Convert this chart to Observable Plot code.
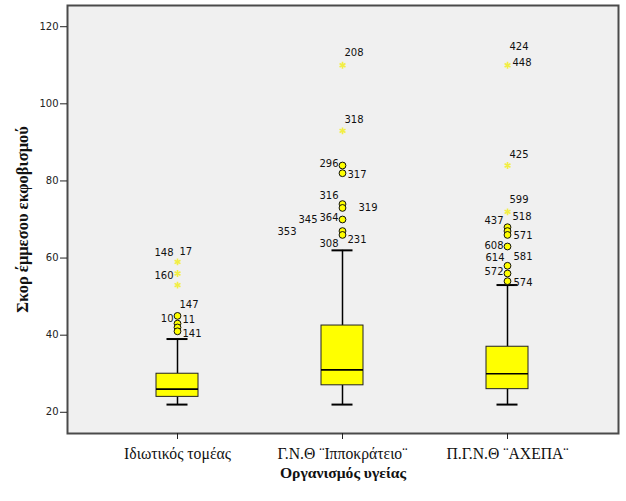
<!DOCTYPE html>
<html>
<head>
<meta charset="utf-8">
<script src="https://cdn.jsdelivr.net/npm/d3@7"></script>
<script src="https://cdn.jsdelivr.net/npm/@observablehq/plot@0.6"></script>
<style>
  html, body { margin: 0; padding: 0; background: #ffffff; }
  #chart svg { display: block; }
</style>
</head>
<body>
<div id="chart"></div>
<script>
// ---- Data ----
const groups = ["Ιδιωτικός τομέας", "Γ.Ν.Θ ¨Ιπποκράτειο¨", "Π.Γ.Ν.Θ ¨ΑΧΕΠΑ¨"];
const whiskerLow = [22, 22, 22];
const q1 = [24, 27, 26];
const median = [26, 31, 30];
const q3 = [30, 42.5, 37];
const whiskerHigh = [39, 62, 53];

// outliers (circles)
const outlierGroup = [0, 0, 0, 0, 1, 1, 1, 1, 1, 1, 1, 2, 2, 2, 2, 2, 2, 2];
const outlierValue = [45, 43, 42, 41, 84, 82, 74, 73, 70, 67, 66, 68, 67, 66, 63, 58, 56, 54];

// extremes (stars)
const extremeGroup = [0, 0, 0, 1, 1, 2, 2, 2];
const extremeValue = [59, 56, 53, 110, 93, 110, 84, 72];

// case labels
const labelId = ["148", "17", "160", "147", "10", "11", "141",
  "208", "318", "296", "317", "316", "319", "364", "345", "353", "308", "231",
  "424", "448", "425", "599", "518", "437", "571", "608", "614", "581", "572", "574"];
const labelGroup = [0, 0, 0, 0, 0, 0, 0,
  1, 1, 1, 1, 1, 1, 1, 1, 1, 1, 1,
  2, 2, 2, 2, 2, 2, 2, 2, 2, 2, 2, 2];
const labelValue = [59, 59, 56, 45, 43, 42, 41,
  110, 93, 84, 82, 74, 73, 70, 70, 67, 66, 66,
  110, 110, 84, 72, 68, 68, 66, 63, 58, 58, 56, 54];

const yTicks = [20, 40, 60, 80, 100, 120];

// ---- Label layout (pixel offsets from the point) ----
const labelDx = [-4, 2, -4, 2, -4, 5, 5,
  2, 2, -4, 5, -4, 16, -4, -25, -46, -4, 5,
  2, 5, 2, 2, 5, -4, 6, -4, -3, 6, -4, 6];
const labelDy = [-9, -10, 2, -11, -5, -8, 2,
  -12, -11, -2, 2, -8, 0, -2, 0, 1, 9, 5,
  -18, -2, -11, -12, -10, -6, 1, -1, -8, -9, -2, 2];

// ---- Build tables ----
const boxes = groups.map((g, i) => ({
  group: g, lo: whiskerLow[i], q1: q1[i], med: median[i], q3: q3[i], hi: whiskerHigh[i]
}));
const outliers = outlierValue.map((v, i) => ({group: groups[outlierGroup[i]], value: v}));
const extremes = extremeValue.map((v, i) => ({group: groups[extremeGroup[i]], value: v}));
const labels = labelId.map((id, i) => ({
  id, group: groups[labelGroup[i]], value: labelValue[i], dx: labelDx[i], dy: labelDy[i]
}));
const labelsLeft = labels.filter(d => d.dx < 0);
const labelsRight = labels.filter(d => d.dx >= 0);

const numFont = "DejaVu Sans, sans-serif";
const serifFont = "Liberation Serif, Times New Roman, serif";

const textMarks = (data, anchor) => data.map(d =>
  Plot.text([d], {
    x: "group", y: "value", text: "id",
    dx: d.dx, dy: d.dy, textAnchor: anchor,
    fontFamily: numFont, fontSize: 10, fill: "#111"
  })
);

const chart = Plot.plot({
  width: 626,
  height: 501,
  marginLeft: 67,
  marginRight: 8,
  marginTop: 5,
  marginBottom: 68,
  style: {background: "#ffffff", overflow: "visible"},
  x: {type: "band", domain: groups, paddingInner: 0.745, paddingOuter: 0.542, label: null},
  y: {domain: [14.5, 125.5], label: null},
  marks: [
    Plot.frame({fill: "#f0f0f0", stroke: null}),
    // whiskers
    Plot.ruleX(boxes, {x: "group", y1: "lo", y2: "q1", stroke: "#000", strokeWidth: 1.5}),
    Plot.ruleX(boxes, {x: "group", y1: "q3", y2: "hi", stroke: "#000", strokeWidth: 1.5}),
    Plot.tickY(boxes, {x: "group", y: "lo", stroke: "#000", strokeWidth: 2, insetLeft: 10.5, insetRight: 10.5}),
    Plot.tickY(boxes, {x: "group", y: "hi", stroke: "#000", strokeWidth: 2, insetLeft: 10.5, insetRight: 10.5}),
    // boxes
    Plot.barY(boxes, {x: "group", y1: "q1", y2: "q3", fill: "#ffff00", stroke: "#222", strokeWidth: 1}),
    Plot.tickY(boxes, {x: "group", y: "med", stroke: "#000", strokeWidth: 1.6}),
    // extremes
    Plot.dot(extremes, {x: "group", y: "value", symbol: "asterisk", r: 3.2, stroke: "#f2ee44", strokeWidth: 1.6}),
    // outliers
    Plot.dot(outliers, {x: "group", y: "value", r: 3.4, fill: "#ffff00", stroke: "#111", strokeWidth: 1}),
    // case labels
    ...textMarks(labelsLeft, "end"),
    ...textMarks(labelsRight, "start"),
    // frame border
    Plot.frame({stroke: "#4a4a4a", strokeWidth: 2}),
    // axes
    Plot.axisY({ticks: yTicks, tickSize: 7, tickPadding: 2, fontFamily: numFont, fontSize: 10, stroke: "#222", fill: "#222", label: null}),
    Plot.axisX({tickSize: 6, tickPadding: 8, fontFamily: serifFont, fontSize: 15.7, fill: "#111", stroke: "#222", label: null}),
    // axis titles
    Plot.text(["Οργανισμός υγείας"], {frameAnchor: "bottom", dy: 39, textAnchor: "middle", lineAnchor: "middle", text: d => d, fontFamily: serifFont, fontSize: 15.6, fontWeight: "bold", fill: "#111"}),
    Plot.text(["Σκορ έμμεσου εκφοβισμού"], {frameAnchor: "left", dx: -45, rotate: -90, textAnchor: "middle", lineAnchor: "middle", text: d => d, fontFamily: serifFont, fontSize: 16.5, fontWeight: "bold", fill: "#111"})
  ]
});
document.getElementById("chart").appendChild(chart);
</script>
</body>
</html>
